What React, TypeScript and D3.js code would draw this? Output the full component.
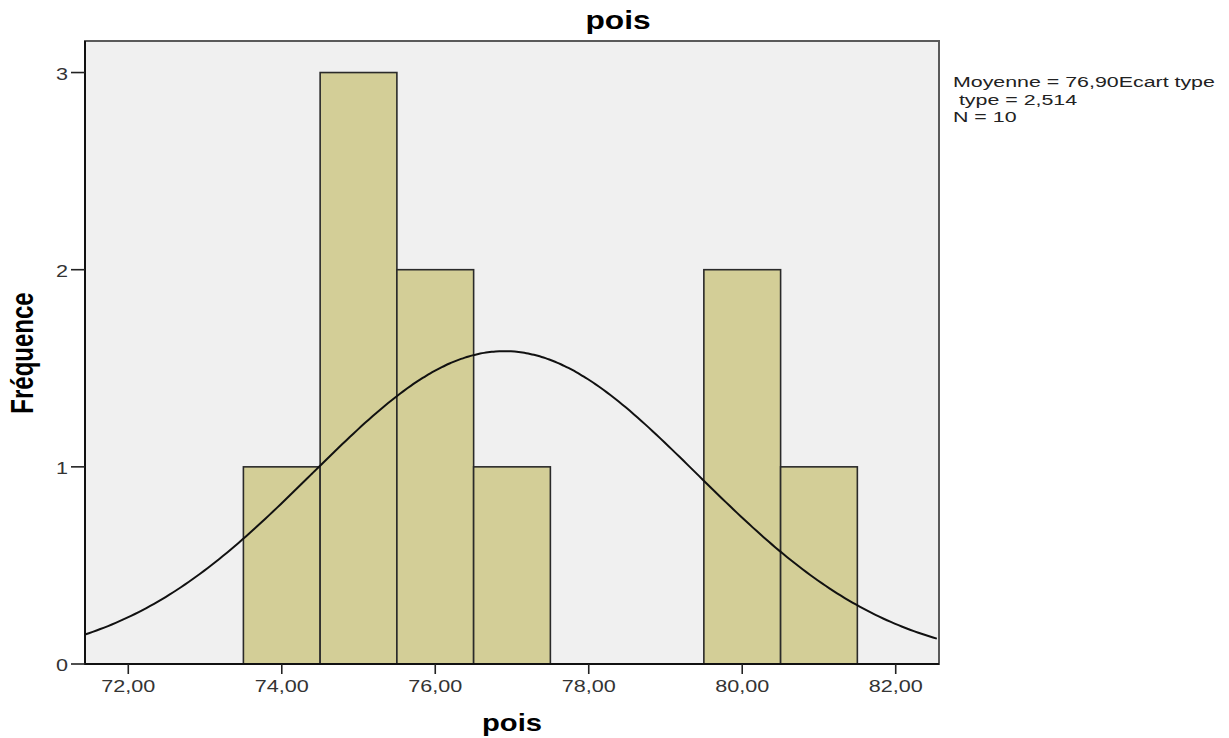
import * as d3 from 'd3'

// histogram bins (lower edge) and frequencies
const binStarts = [73.5, 74.5, 75.5, 76.5, 79.5, 80.5]
const frequencies = [1, 3, 2, 1, 2, 1]
const binWidth = 1

// summary stats shown in the legend
const stats = { mean: 76.9, sd: 2.514, n: 10 }
const legendLines = ['Moyenne = 76,90Ecart type', ' type = 2,514', 'N = 10']

const xTicks = [72, 74, 76, 78, 80, 82]
const yTicks = [0, 1, 2, 3]

const W = 1229
const H = 738
const plot = { left: 85, right: 939, top: 41, bottom: 664 }
const stretch = 1.27 // source picture is stretched horizontally
const font = "'Liberation Sans', Arial, sans-serif"

const fmt = (v: number) => v.toFixed(2).replace('.', ',')

export default function App() {
  const x = d3.scaleLinear().domain([71.436, 82.564]).range([plot.left, plot.right])
  const y = d3.scaleLinear().domain([0, 3.16]).range([plot.bottom, plot.top])

  const normal = (v: number) =>
    (stats.n * binWidth) / (stats.sd * Math.sqrt(2 * Math.PI)) *
    Math.exp(-0.5 * ((v - stats.mean) / stats.sd) ** 2)

  const curveX = d3.range(x.domain()[0], x.domain()[1] + 0.001, 0.05)
  const line = d3.line<number>()
    .x(d => x(d))
    .y(d => y(normal(d)))
    .curve(d3.curveMonotoneX)

  return (
    <svg width={W} height={H} style={{ position: 'absolute', left: 0, top: 0, display: 'block', background: '#fff' }}
      fontFamily={font}>
      {/* plot background */}
      <rect x={plot.left} y={plot.top} width={plot.right - plot.left} height={plot.bottom - plot.top}
        fill="#f0f0f0" stroke="#5a5a5a" strokeWidth={2} />

      {/* bars */}
      {binStarts.map((b, i) => (
        <rect key={i} x={x(b)} y={y(frequencies[i])}
          width={x(b + binWidth) - x(b)} height={y(0) - y(frequencies[i])}
          fill="#d3ce97" stroke="#2a2a2a" strokeWidth={1.6} />
      ))}

      {/* normal curve */}
      <path d={line(curveX) || ''} fill="none" stroke="#111" strokeWidth={2} />

      {/* axes */}
      <line x1={plot.left} x2={plot.left} y1={plot.top} y2={plot.bottom + 1} stroke="#111" strokeWidth={2} />
      <line x1={plot.left} x2={plot.right} y1={plot.bottom} y2={plot.bottom} stroke="#111" strokeWidth={2} />

      {yTicks.map(t => (
        <g key={t}>
          <line x1={plot.left - 14} x2={plot.left} y1={y(t)} y2={y(t)} stroke="#222" strokeWidth={1.6} />
          <text transform={`translate(${plot.left - 17},${y(t) + 7}) scale(${stretch},1)`}
            textAnchor="end" fontSize={17} fill="#333">{t}</text>
        </g>
      ))}

      {xTicks.map(t => (
        <g key={t}>
          <line x1={x(t)} x2={x(t)} y1={plot.bottom} y2={plot.bottom + 10} stroke="#222" strokeWidth={1.6} />
          <text transform={`translate(${x(t)},${692}) scale(${stretch},1)`}
            textAnchor="middle" fontSize={17} fill="#333">{fmt(t)}</text>
        </g>
      ))}

      {/* titles */}
      <text transform={`translate(618,29) scale(${stretch},1)`} textAnchor="middle"
        fontSize={25} fontWeight="bold" fill="#000">pois</text>
      <text transform={`translate(512,731) scale(${stretch},1)`} textAnchor="middle"
        fontSize={23} fontWeight="bold" fill="#000">pois</text>
      <text transform={`translate(33,353) scale(${stretch},1) rotate(-90)`} textAnchor="middle"
        fontSize={24} fontWeight="bold" fill="#000">Fréquence</text>

      {/* legend */}
      {legendLines.map((s, i) => (
        <text key={i} transform={`translate(953,${87 + i * 17.5}) scale(1.38,1)`}
          fontSize={15.5} fill="#222" style={{ whiteSpace: 'pre' }}>{s}</text>
      ))}
    </svg>
  )
}
